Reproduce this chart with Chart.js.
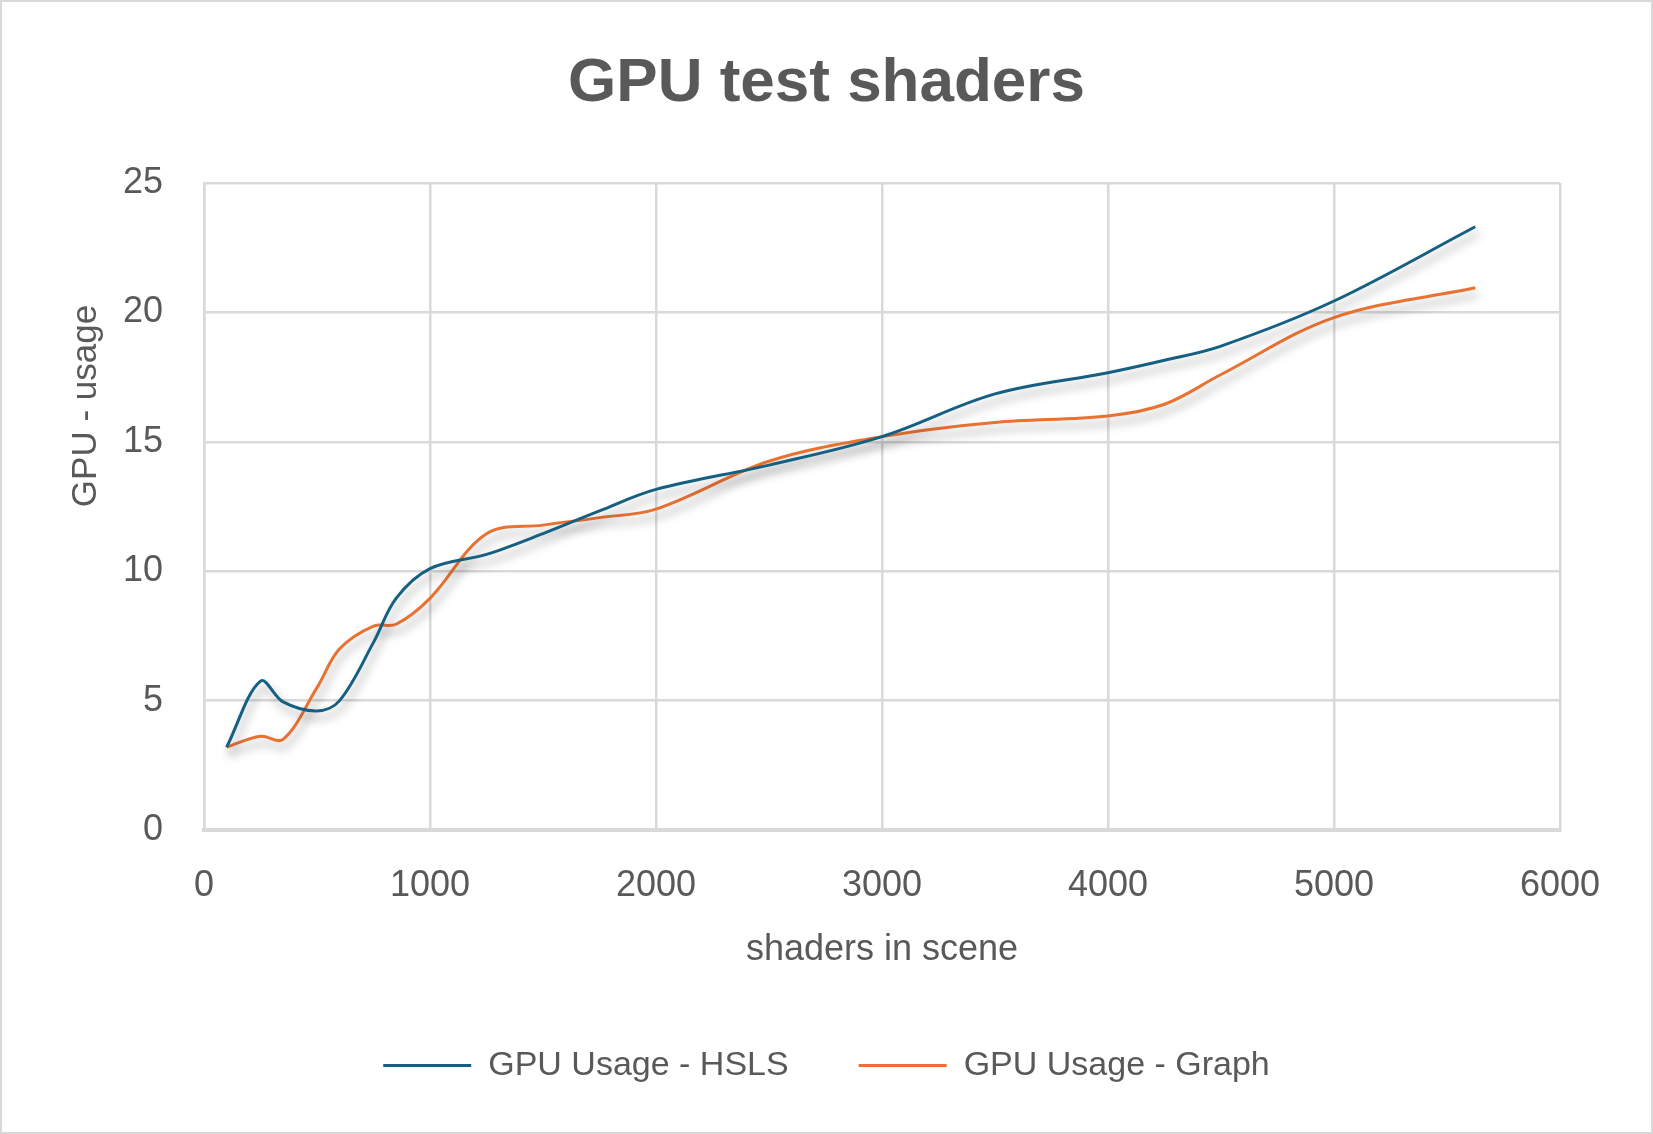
<!DOCTYPE html>
<html>
<head>
<meta charset="utf-8">
<script src="https://cdn.jsdelivr.net/npm/chart.js@4.4.1/dist/chart.umd.min.js"></script>
<style>
html,body{margin:0;padding:0;background:#fff;}
canvas{display:block;}
</style>
</head>
<body>
<canvas id="c" width="1653" height="1134"></canvas>
<script>
// ---- data ----
const shaders   = [100, 250, 350, 500, 600, 750, 850, 1000, 1250, 1500, 1750, 2000, 2500, 3000, 3500, 4000, 4250, 4500, 5000, 5625];
const gpuHSLS   = [3.2, 5.75, 4.95, 4.6, 5.0, 7.25, 8.95, 10.1, 10.65, 11.45, 12.33, 13.16, 14.1, 15.2, 16.85, 17.67, 18.15, 18.7, 20.44, 23.31];
const gpuGraph  = [3.2, 3.62, 3.5, 5.5, 7.0, 7.88, 7.95, 8.95, 11.45, 11.78, 12.07, 12.4, 14.25, 15.2, 15.75, 16.0, 16.45, 17.6, 19.8, 20.95];
const seriesNames = ['GPU Usage - HSLS', 'GPU Usage - Graph'];
const chartTitle = 'GPU test shaders';
const xTitle = 'shaders in scene';
const yTitle = 'GPU - usage';

const FONT = "'Liberation Sans', Arial, sans-serif";
const TXT = '#595959';
const GRID = '#D9D9D9';

const frame = {
  id: 'frame',
  beforeDraw(chart) {
    const c = chart.ctx;
    c.save();
    c.fillStyle = '#fff';
    c.fillRect(0, 0, chart.width, chart.height);
    c.strokeStyle = GRID;
    c.lineWidth = 2;
    c.strokeRect(1, 1, chart.width - 2, chart.height - 2);
    c.restore();
  },
  afterDraw(chart) {
    const c = chart.ctx;
    c.save();
    c.fillStyle = TXT;
    c.font = "35px " + FONT;
    c.textAlign = 'center';
    c.textBaseline = 'middle';
    c.translate(86, 406);
    c.rotate(-Math.PI / 2);
    c.fillText(yTitle, 0, 0);
    c.restore();
  }
};

const shadow = {
  id: 'shadow',
  beforeDatasetDraw(chart) {
    const c = chart.ctx;
    c.save();
    c.shadowColor = 'rgba(0,0,0,0.35)';
    c.shadowBlur = 10;
    c.shadowOffsetX = 3;
    c.shadowOffsetY = 7;
  },
  afterDatasetDraw(chart) {
    chart.ctx.restore();
  }
};

new Chart(document.getElementById('c'), {
  type: 'line',
  data: {
    datasets: [
      {
        label: seriesNames[0],
        data: shaders.map((x, i) => ({x: x, y: gpuHSLS[i]})),
        borderColor: '#156082',
        backgroundColor: '#156082',
        borderWidth: 3,
        pointRadius: 0,
        pointStyle: 'line',
        tension: 0.35,
        fill: false
      },
      {
        label: seriesNames[1],
        data: shaders.map((x, i) => ({x: x, y: gpuGraph[i]})),
        borderColor: '#E97132',
        backgroundColor: '#E97132',
        borderWidth: 3,
        pointRadius: 0,
        pointStyle: 'line',
        tension: 0.35,
        fill: false
      }
    ]
  },
  options: {
    responsive: false,
    animation: false,
    devicePixelRatio: 1,
    clip: false,
    layout: { padding: { top: 0, left: 0, right: 0, bottom: 41.5 } },
    plugins: {
      title: {
        display: true,
        text: chartTitle,
        color: TXT,
        font: { family: FONT, size: 62, weight: 'bold' },
        padding: { top: 47, bottom: 61.6 }
      },
      legend: {
        display: true,
        position: 'bottom',
        labels: {
          color: TXT,
          font: { family: FONT, size: 34 },
          usePointStyle: true,
          pointStyle: 'line',
          pointStyleWidth: 88,
          padding: 70
        }
      },
      tooltip: { enabled: false }
    },
    scales: {
      x: {
        type: 'linear',
        min: 0,
        max: 6000,
        ticks: { stepSize: 1000, color: TXT, font: { family: FONT, size: 36 }, padding: 34, maxRotation: 0,
                 callback: (v) => String(v) },
        grid: { color: GRID, lineWidth: 2.5, drawTicks: false },
        border: { display: true, color: GRID, width: 4 },
        title: { display: true, text: xTitle, color: TXT, font: { family: FONT, size: 36 }, padding: { top: 0, bottom: 7 } },
        afterFit(scale) { scale.height = 148.5; scale.paddingRight = 93; }
      },
      y: {
        type: 'linear',
        min: 0,
        max: 25,
        ticks: { stepSize: 5, color: TXT, font: { family: FONT, size: 36 }, padding: 41 },
        grid: { color: GRID, lineWidth: 2.5, drawTicks: false },
        border: { display: true, color: GRID, width: 2.5 },
        afterFit(scale) { scale.width = 204; }
      }
    }
  },
  plugins: [frame, shadow]
});
</script>
</body>
</html>
